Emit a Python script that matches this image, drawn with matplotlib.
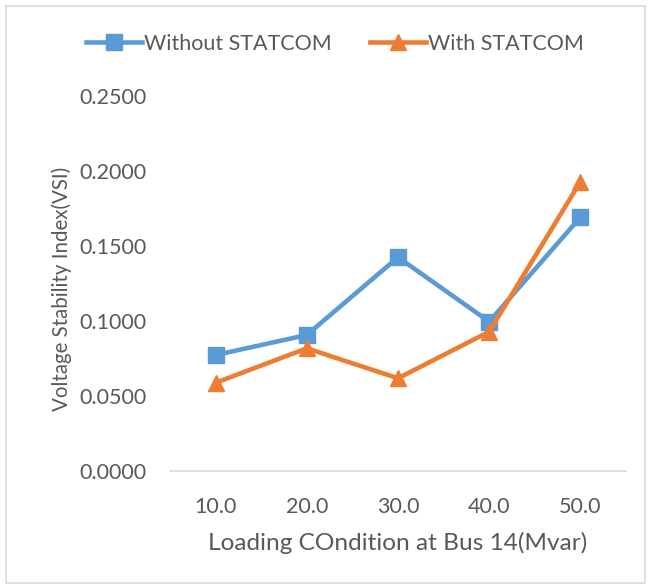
import matplotlib
matplotlib.use("Agg")
import matplotlib.pyplot as plt
from matplotlib.patches import Rectangle

plt.rcParams['font.family'] = ['Lato', 'DejaVu Sans']

categories = ["10.0", "20.0", "30.0", "40.0", "50.0"]
without_statcom = [0.0774, 0.0908, 0.1427, 0.0997, 0.1694]
with_statcom = [0.0589, 0.0819, 0.0619, 0.0930, 0.1931]
y_ticks = [0.0, 0.05, 0.10, 0.15, 0.20, 0.25]

BLUE = "#5B9BD5"
ORANGE = "#ED7D31"
TEXT = "#595959"

fig = plt.figure(figsize=(6.5, 5.88), dpi=100)
fig.patches.append(Rectangle((6 / 650, 5 / 588), 639 / 650, 577 / 588,
                             transform=fig.transFigure, fill=False,
                             edgecolor="#d9d9d9", linewidth=1.2))

ax = fig.add_axes([170 / 650, 1 - 471 / 588, 456 / 650, 374.5 / 588])
x = list(range(len(categories)))
ax.plot(x, without_statcom, color=BLUE, lw=3.3, marker="s", ms=11.5,
        label="Without STATCOM", solid_joinstyle="round")
ax.plot(x, with_statcom, color=ORANGE, lw=3.3, marker="^", ms=12,
        label="With STATCOM", solid_joinstyle="round")

ax.set_xlim(-0.5, len(categories) - 0.5)
ax.set_ylim(0, 0.25)
ax.set_yticks(y_ticks)
ax.set_yticklabels([f"{v:.4f}" for v in y_ticks])
ax.set_xticks(x)
ax.set_xticklabels(categories)
ax.tick_params(axis="both", length=0, labelsize=15.5, labelcolor=TEXT)
ax.tick_params(axis="y", pad=17)
ax.tick_params(axis="x", pad=18.5)
for s in ("top", "right", "left"):
    ax.spines[s].set_visible(False)
ax.spines["bottom"].set_color("#d9d9d9")
ax.spines["bottom"].set_linewidth(1.2)

ax.set_xlabel("Loading COndition at Bus 14(Mvar)", fontsize=17.6, color=TEXT, labelpad=11)
ax.set_ylabel("Voltage Stability Index(VSI)", fontsize=14.8, color=TEXT)
ax.yaxis.set_label_coords(-0.216, 0.486)

fig.legend(loc="center", bbox_to_anchor=(335 / 650, 1 - 44 / 588), ncol=2,
           frameon=False, fontsize=15.5, labelcolor=TEXT, handlelength=2.6,
           handletextpad=0.1, columnspacing=1.8, bbox_transform=fig.transFigure)

fig.savefig("out.png", dpi=100)
